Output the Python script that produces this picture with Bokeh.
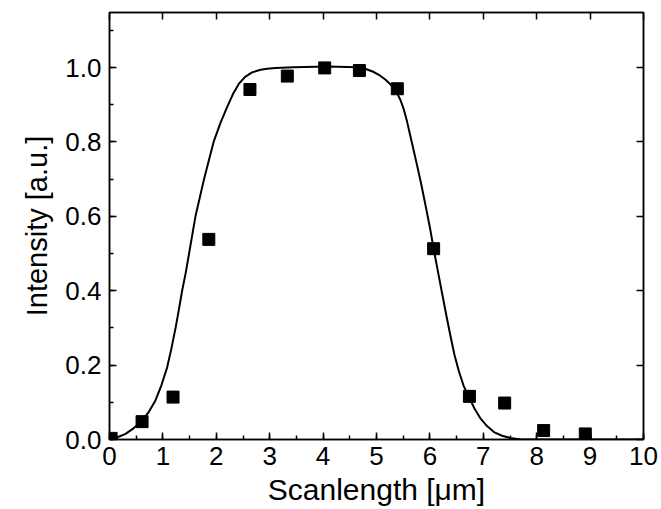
from bokeh.plotting import figure
from bokeh.models import LinearAxis, FixedTicker, Range1d, CustomJSTickFormatter
from bokeh.embed import file_html
from bokeh.resources import INLINE

# measured data points
x_pts = [0.03, 0.61, 1.19, 1.86, 2.63, 3.33, 4.03, 4.68, 5.39, 6.07, 6.74, 7.40, 8.13, 8.91]
y_pts = [0.003, 0.048, 0.114, 0.538, 0.941, 0.977, 0.999, 0.992, 0.943, 0.513, 0.116, 0.098, 0.024, 0.015]

# fit curve
x_fit = [0.00, 0.15, 0.30, 0.45, 0.61, 0.74, 0.86, 0.97, 1.08, 1.16, 1.24, 1.30, 1.36, 1.43, 1.49,
         1.55, 1.61, 1.69, 1.77, 1.86, 1.95, 2.08, 2.20, 2.31, 2.42, 2.54, 2.67, 2.83, 2.95, 3.11,
         3.45, 4.08, 4.64, 4.80, 4.95, 5.07, 5.17, 5.26, 5.33, 5.39, 5.45, 5.51, 5.57, 5.66, 5.76, 5.84, 5.92, 6.00, 6.07,
         6.15, 6.23, 6.31, 6.39, 6.46, 6.54, 6.63, 6.73, 6.84, 6.95, 7.07, 7.20, 7.35, 7.51, 7.70, 10.0]
y_fit = [0.000, 0.006, 0.015, 0.030, 0.050, 0.075, 0.105, 0.145, 0.194, 0.245, 0.302, 0.350, 0.400, 0.450, 0.500,
         0.550, 0.600, 0.650, 0.700, 0.750, 0.800, 0.852, 0.893, 0.928, 0.956, 0.975, 0.987, 0.994, 0.997, 0.999,
         1.001, 1.003, 1.001, 0.996, 0.988, 0.978, 0.967, 0.955, 0.943, 0.930, 0.912, 0.888, 0.856, 0.800, 0.737, 0.685, 0.628, 0.570, 0.513,
         0.452, 0.392, 0.332, 0.275, 0.228, 0.185, 0.145, 0.114, 0.082, 0.056, 0.036, 0.020, 0.010, 0.004, 0.000, 0.000]

x_major = [0, 1, 2, 3, 4, 5, 6, 7, 8, 9, 10]
x_minor = [i * 0.5 for i in range(21)]
y_major = [0.0, 0.2, 0.4, 0.6, 0.8, 1.0]
y_minor = [i * 0.1 for i in range(12)]

FONT = "Liberation Sans"

p = figure(width=660, height=508, output_backend="svg", toolbar_location=None,
           x_range=Range1d(0, 10), y_range=Range1d(0, 1.148),
           x_axis_label="Scanlength [μm]", y_axis_label="Intensity [a.u.]",
           min_border_left=109, min_border_right=17, min_border_top=12, min_border_bottom=69)
p.grid.visible = False
p.background_fill_color = "white"
p.border_fill_color = "white"
p.outline_line_color = "black"
p.outline_line_width = 1.5

for ax in (p.xaxis[0], p.yaxis[0]):
    ax.axis_line_width = 1.5
    ax.axis_line_color = "black"
    ax.major_tick_in = 7
    ax.major_tick_out = 0
    ax.minor_tick_in = 4
    ax.minor_tick_out = 0
    ax.major_tick_line_width = 1.5
    ax.minor_tick_line_width = 1.5
    ax.major_tick_line_color = "black"
    ax.minor_tick_line_color = "black"
    ax.major_label_text_font = FONT
    ax.major_label_text_font_size = "26px"
    ax.major_label_text_color = "black"
    ax.axis_label_text_font = FONT
    ax.axis_label_text_font_style = "normal"
    ax.axis_label_text_color = "black"

p.xaxis[0].axis_label_text_font_size = "30px"
p.yaxis[0].axis_label_text_font_size = "29px"
p.xaxis[0].ticker = FixedTicker(ticks=x_major, minor_ticks=x_minor)
p.xaxis[0].major_label_standoff = 7
p.xaxis[0].axis_label_standoff = 5
p.yaxis[0].ticker = FixedTicker(ticks=y_major, minor_ticks=y_minor)
p.yaxis[0].formatter = CustomJSTickFormatter(code="return tick.toFixed(1);")
p.yaxis[0].major_label_standoff = 8
p.yaxis[0].axis_label_standoff = 9

top = LinearAxis(ticker=FixedTicker(ticks=x_major, minor_ticks=[]),
                 formatter=CustomJSTickFormatter(code="return '';"))
right = LinearAxis(ticker=FixedTicker(ticks=y_major, minor_ticks=[]),
                   formatter=CustomJSTickFormatter(code="return '';"))
for ax in (top, right):
    ax.axis_line_width = 1.5
    ax.major_tick_in = 7
    ax.major_tick_out = 0
    ax.minor_tick_in = 0
    ax.minor_tick_out = 0
    ax.major_tick_line_width = 1.5
    ax.major_label_text_font_size = "0px"
    ax.major_label_standoff = 0
p.add_layout(top, "above")
p.add_layout(right, "right")

p.line(x_fit, y_fit, line_color="black", line_width=2)
p.scatter(x_pts, y_pts, marker="square", size=12, fill_color="black", line_color="black")

open("out.html", "w").write(file_html(p, INLINE))
